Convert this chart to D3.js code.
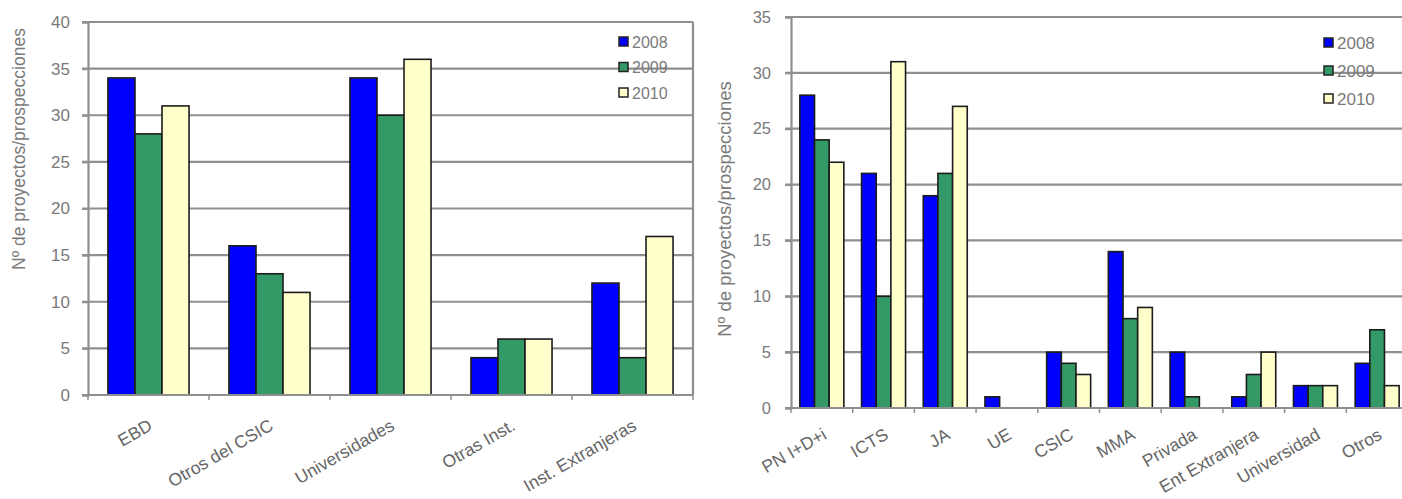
<!DOCTYPE html>
<html><head><meta charset="utf-8">
<script src="https://cdn.jsdelivr.net/npm/d3@7"></script>
<style>
html,body{margin:0;padding:0;background:#fff;}
svg{display:block;font-family:"Liberation Sans",Arial,sans-serif;}
</style></head>
<body><svg id="c" width="1402" height="499"></svg>
<script>
const series = ["2008","2009","2010"];
const colors = ["#0000ff","#339966","#ffffcc"];
const yTitle = "Nº de proyectos/prospecciones";

const leftCats = ["EBD","Otros del CSIC","Universidades","Otras Inst.","Inst. Extranjeras"];
const left2008 = [34,16,34,4,12];
const left2009 = [28,13,30,6,4];
const left2010 = [31,11,36,6,17];
const leftTicks = [0,5,10,15,20,25,30,35,40];

const rightCats = ["PN I+D+i","ICTS","JA","UE","CSIC","MMA","Privada","Ent Extranjera","Universidad","Otros"];
const right2008 = [28,21,19,1,5,14,5,1,2,4];
const right2009 = [24,10,21,0,4,8,1,3,2,7];
const right2010 = [22,31,27,0,3,9,0,5,2,2];
const rightTicks = [0,5,10,15,20,25,30,35];

const svg = d3.select("#c");

function chart(o){
  const g = svg.append("g");
  const y = d3.scaleLinear().domain([0,o.ymax]).range([o.bottom,o.top]);
  const x0 = d3.scaleBand().domain(o.cats).range([o.left,o.right]).paddingInner(o.pi).paddingOuter(o.pi/2);
  const x1 = d3.scaleBand().domain(series).range([0,x0.bandwidth()]);
  // gridlines
  g.append("g").selectAll("line").data(o.ticks.filter(t=>t>0)).join("line")
    .attr("x1",o.left-6).attr("x2",o.right).attr("y1",d=>y(d)).attr("y2",d=>y(d))
    .attr("stroke","#8f8f8f").attr("stroke-width",2.2);
  // y axis
  const ya = g.append("g").attr("transform",`translate(${o.left},0)`)
    .call(d3.axisLeft(y).tickValues(o.ticks).tickSize(6).tickPadding(o.tickPad));
  ya.select(".domain").attr("stroke","#8f8f8f").attr("stroke-width",2.2);
  ya.selectAll(".tick line").attr("stroke","#8f8f8f").attr("stroke-width",2);
  ya.selectAll(".tick text").attr("fill","#7a7a7a").attr("font-size",o.tickFs).attr("font-family","Liberation Sans, Arial, sans-serif");
  // right frame
  if(o.frame){
    g.append("line").attr("x1",o.right).attr("x2",o.right).attr("y1",o.top).attr("y2",o.bottom)
      .attr("stroke","#8f8f8f").attr("stroke-width",2.2);
  }
  // bars
  const data = [];
  o.cats.forEach((c,i)=>series.forEach((s,j)=>{ const v=o.vals[j][i]; if(v>0) data.push({c,s,v,j}); }));
  g.append("g").selectAll("rect").data(data).join("rect")
    .attr("x",d=>x0(d.c)+x1(d.s)).attr("width",x1.bandwidth())
    .attr("y",d=>y(d.v)).attr("height",d=>y(0)-y(d.v))
    .attr("fill",d=>colors[d.j]).attr("stroke","#1c1c1c").attr("stroke-width",1.6);
  // x axis
  const xa = g.append("g").attr("transform",`translate(0,${o.bottom})`);
  xa.append("line").attr("x1",o.left-6).attr("x2",o.right).attr("stroke","#8f8f8f").attr("stroke-width",2.2);
  const bounds = o.cats.map(c=>x0(c)-x0.step()*x0.paddingInner()/2);
  bounds.push(o.right);
  xa.selectAll("line.tk").data(bounds).join("line").attr("class","tk")
    .attr("x1",d=>d).attr("x2",d=>d).attr("y1",0).attr("y2",5).attr("stroke","#8f8f8f").attr("stroke-width",1.5);
  xa.selectAll("text").data(o.cats).join("text")
    .attr("transform",d=>`translate(${x0(d)+x0.bandwidth()/2+o.lx},${o.ly}) rotate(-30)`)
    .attr("text-anchor","end").attr("font-size",o.labFs).attr("fill","#666").text(d=>d);
  // y title
  g.append("text").attr("transform",`translate(${o.tx},${o.ty}) rotate(-90)`)
    .attr("text-anchor","middle").attr("dominant-baseline","central")
    .attr("font-size",o.titleFs).attr("fill","#7a7a7a").text(yTitle);
  // legend
  const lg = g.append("g");
  series.forEach((s,j)=>{
    const cy = o.legY + j*o.legDy;
    lg.append("rect").attr("x",o.legX).attr("y",cy-5).attr("width",9).attr("height",9)
      .attr("fill",colors[j]).attr("stroke","#222").attr("stroke-width",1.5);
    lg.append("text").attr("x",o.legX+13).attr("y",cy).attr("dominant-baseline","central")
      .attr("font-size",o.legFs).attr("fill","#7a7a7a").text(s);
  });
}

chart({cats:leftCats, vals:[left2008,left2009,left2010], ticks:leftTicks, ymax:40,
  left:88, right:693, top:22, bottom:395, pi:0.33, frame:true, tickFs:17, tickPad:12,
  labFs:17.5, lx:5, ly:34, titleFs:17.5, tx:19, ty:149,
  legX:619, legY:42, legDy:25.5, legFs:16});

chart({cats:rightCats, vals:[right2008,right2009,right2010], ticks:rightTicks, ymax:35,
  left:791, right:1408, top:17, bottom:408, pi:0.287, frame:false, tickFs:16.5, tickPad:14,
  labFs:17.5, lx:6, ly:30, titleFs:18.5, tx:724, ty:209,
  legX:1324, legY:43, legDy:28, legFs:17});
</script></body></html>
